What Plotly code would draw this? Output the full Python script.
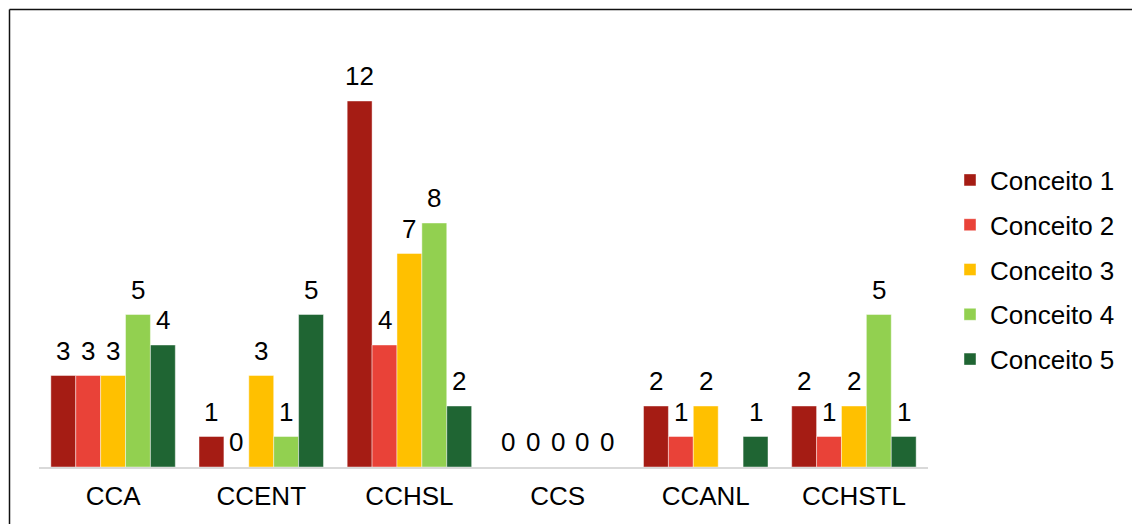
import plotly.graph_objects as go

categories = ["CCA", "CCENT", "CCHSL", "CCS", "CCANL", "CCHSTL"]
series_names = ["Conceito 1", "Conceito 2", "Conceito 3", "Conceito 4", "Conceito 5"]
conceito_1 = [3, 1, 12, 0, 2, 2]
conceito_2 = [3, 0, 4, 0, 1, 1]
conceito_3 = [3, 3, 7, 0, 2, 2]
conceito_4 = [5, 1, 8, 0, None, 5]
conceito_5 = [4, 5, 2, 0, 1, 1]
colors = ["#A51C14", "#E94238", "#FFC000", "#92D050", "#1F6533"]

series = [conceito_1, conceito_2, conceito_3, conceito_4, conceito_5]

FONT = "Arial, Liberation Sans, sans-serif"
FS = 26
BARGAP = 0.16

# page body has an 8px margin; figure is drawn in page coords shifted by OFF
OFF = 8
W, H = 1140 - OFF, 524 - OFF

fig = go.Figure()
n = len(series)
bw = (1 - BARGAP) / n
annotations = []
for i, (name, vals, col) in enumerate(zip(series_names, series, colors)):
    fig.add_trace(go.Bar(
        x=categories, y=vals, name=name,
        marker=dict(color=col, line=dict(color="rgba(255,255,255,0.55)", width=0.8)),
        cliponaxis=False,
        legendgroup=f"g{i}",
    ))
    for ci, v in enumerate(vals):
        if v is None:
            continue
        annotations.append(dict(
            x=ci + (i - (n - 1) / 2) * bw, y=v, xref="x", yref="y",
            text=str(v), showarrow=False, yanchor="bottom", xanchor="center", yshift=8,
            font=dict(size=FS, color="#000000", family=FONT),
        ))

# target page-pixel plot area: x 39..928, y 40..467
L, R, T, B = 39 - OFF, 928 - OFF, 40 - OFF, 467 - OFF
def px(x):
    return (x - OFF - L) / (R - L)
def py(y):
    return (B - (y - OFF)) / (B - T)

shapes = [
    dict(type="line", xref="paper", yref="paper", x0=px(9.5), x1=px(1160), y0=py(9.5), y1=py(9.5),
         line=dict(color="#111111", width=1.5)),
    dict(type="line", xref="paper", yref="paper", x0=px(9.5), x1=px(9.5), y0=py(9.5), y1=py(560),
         line=dict(color="#111111", width=1.5)),
]

fig.update_layout(
    width=W, height=H,
    margin=dict(l=L, r=W - R, t=T, b=H - B, pad=0),
    paper_bgcolor="white", plot_bgcolor="white",
    barmode="group", bargap=BARGAP, bargroupgap=0,
    font=dict(family=FONT, size=FS, color="#000000"),
    xaxis=dict(showline=True, linecolor="#D9D9D9", linewidth=1.5, ticks="", showgrid=False,
               tickfont=dict(size=FS, color="#000000", family=FONT), fixedrange=True,
               automargin=False, ticklabelstandoff=5),
    yaxis=dict(visible=False, range=[0, 14], showgrid=False, zeroline=False, fixedrange=True),
    legend=dict(x=px(950), xanchor="left", y=py(270), yanchor="middle",
                font=dict(size=FS, color="#000000", family=FONT),
                traceorder="grouped", tracegroupgap=8, bgcolor="rgba(0,0,0,0)"),
    shapes=shapes,
    annotations=annotations,
    showlegend=True,
)

fig.write_html("out.html")
